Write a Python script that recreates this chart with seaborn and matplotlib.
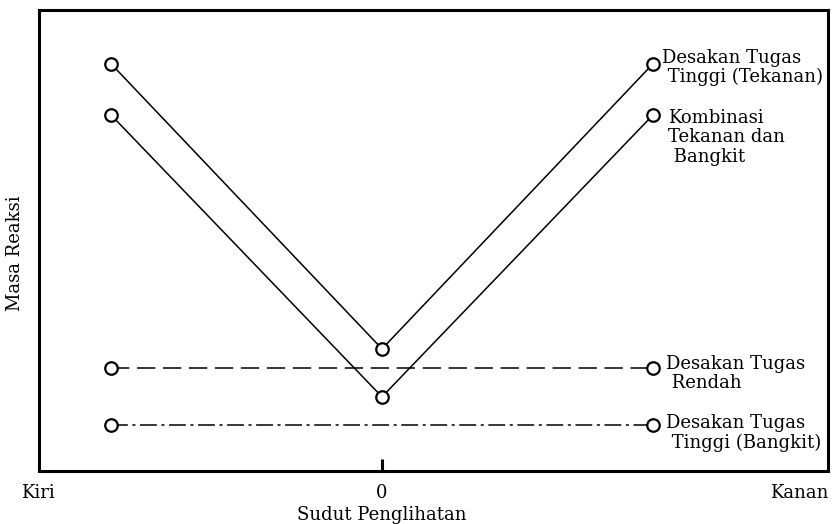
import seaborn as sns
import pandas as pd
import matplotlib.pyplot as plt

# data (arbitrary units, 0 = bottom of frame, 100 = top)
sudut = [-1, 0, 1]
tekanan = [88.3, 26.5, 88.3]
kombinasi = [77.2, 16.1, 77.2]
rendah = [22.3, 22.3, 22.3]
bangkit = [10.0, 10.0, 10.0]

label_tekanan = "Desakan Tugas\n Tinggi (Tekanan)"
label_kombinasi = "Kombinasi\nTekanan dan\n Bangkit"
label_rendah = "Desakan Tugas\n Rendah"
label_bangkit = "Desakan Tugas\n Tinggi (Bangkit)"

sns.set_theme(style="ticks")
plt.rcParams['font.family'] = ['DejaVu Serif']
plt.rcParams['axes.linewidth'] = 2.2
plt.rcParams['text.color'] = 'black'
plt.rcParams['xtick.labelcolor'] = 'black'

fig = plt.figure(figsize=(8.32, 5.24), dpi=100)
ax = fig.add_axes([0.047, 0.101, 0.948, 0.88])

# (nilai, gaya garis, titik mana yang diberi lingkaran)
seri = [
    (tekanan, '-', [0, 1, 2]),
    (kombinasi, '-', [0, 1, 2]),
    (rendah, (0, (12, 5)), [0, 2]),
    (bangkit, (0, (11, 3, 2, 3)), [0, 2]),
]
for nilai, gaya, tanda in seri:
    df = pd.DataFrame({'x': sudut, 'y': nilai})
    sns.lineplot(data=df, x='x', y='y', ax=ax, color='black', linewidth=1.1,
                 linestyle=gaya, marker='o', markersize=9, markerfacecolor='white',
                 markeredgecolor='black', markeredgewidth=1.6, markevery=tanda)

ax.set_xlim(-1.266, 1.646)
ax.set_ylim(0, 100)

fs = 13
ax.text(1.035, tekanan[-1] - 0.8, label_tekanan, fontsize=fs, ha='left', va='center',
        linespacing=1.1)
ax.text(1.055, kombinasi[-1] - 4.8, label_kombinasi, fontsize=fs, ha='left', va='center',
        linespacing=1.1)
ax.text(1.05, rendah[-1] - 1.1, label_rendah, fontsize=fs, ha='left', va='center',
        linespacing=1.1)
ax.text(1.05, bangkit[-1] - 1.8, label_bangkit, fontsize=fs, ha='left', va='center',
        linespacing=1.1)

ax.set_xticks([0])
ax.set_xticklabels(['0'], fontsize=fs)
ax.tick_params(axis='x', direction='in', length=9, width=2.2, color='black', pad=9)
ax.set_yticks([])
ax.set_xlabel('')
ax.set_ylabel('')

fig.text(0.025, 0.059, 'Kiri', fontsize=fs, ha='left', va='center')
fig.text(0.996, 0.059, 'Kanan', fontsize=fs, ha='right', va='center')
fig.text(0.459, 0.017, 'Sudut Penglihatan', fontsize=fs, ha='center', va='center')
fig.text(0.018, 0.517, 'Masa Reaksi', fontsize=fs, ha='center', va='center', rotation=90)

for s in ax.spines.values():
    s.set_color('black')

plt.savefig('out.png', dpi=100)
plt.close()
